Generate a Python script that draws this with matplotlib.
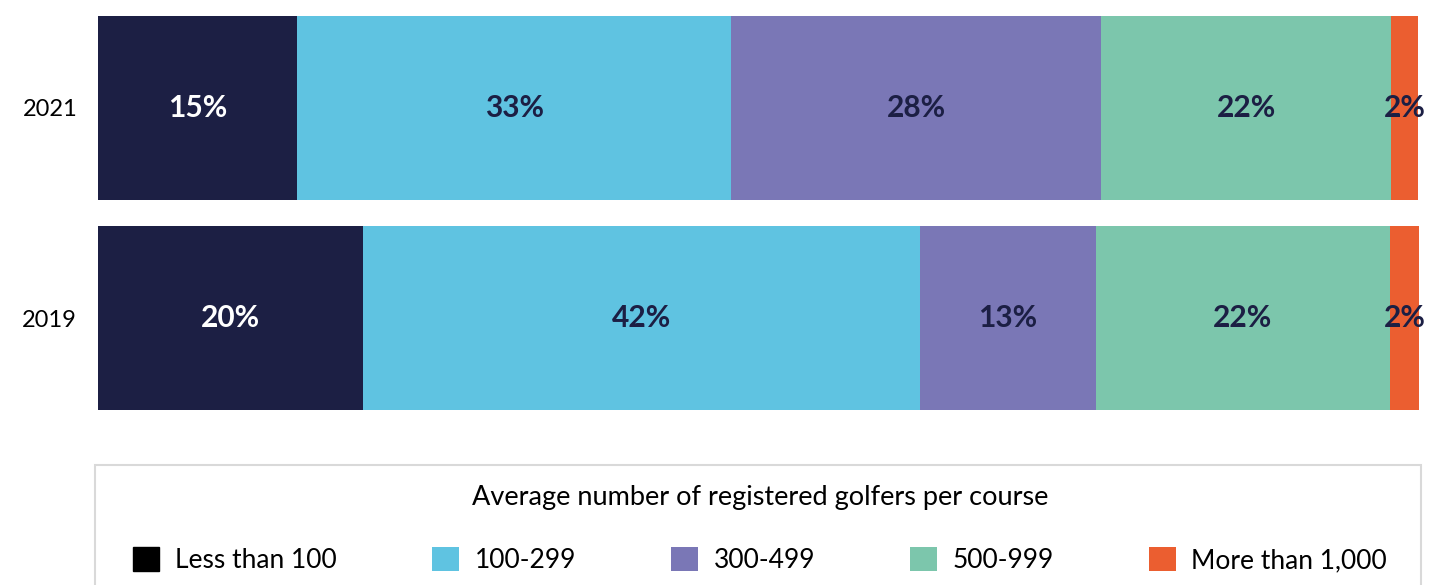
import matplotlib.pyplot as plt
import numpy as np

plt.rcParams['font.family'] = ['Lato', 'DejaVu Sans']

years = ['2019', '2021']
categories = ['Less than 100', '100-299', '300-499', '500-999', 'More than 1,000']
colors = ['#1c1f44', '#5fc3e1', '#7a77b6', '#7cc6ac', '#eb5e30']
label_colors = ['white', '#1c1f44', '#1c1f44', '#1c1f44', '#1c1f44']

# share of courses per band (bar widths)
shares_2019 = [20.1, 42.2, 13.3, 22.3, 2.2]
shares_2021 = [15.1, 32.9, 28.0, 22.0, 2.0]
# printed labels
labels_2019 = ['20%', '42%', '13%', '22%', '2%']
labels_2021 = ['15%', '33%', '28%', '22%', '2%']

shares = np.array([shares_2019, shares_2021])
labels = [labels_2019, labels_2021]

fig = plt.figure(figsize=(14.29, 5.85), dpi=100)
ax = fig.add_axes([98/1429, 1 - 410/585, (1419 - 98)/1429, 394/585])

y = np.arange(len(years))
bar_h = 0.876
left = np.zeros(len(years))
for i, cat in enumerate(categories):
    ax.barh(y, shares[:, i], left=left, height=bar_h, color=colors[i], label=cat)
    for j in range(len(years)):
        ax.text(left[j] + shares[j, i] / 2, y[j], labels[j][i], ha='center', va='center',
                fontsize=21.5, fontweight='bold', color=label_colors[i])
    left += shares[:, i]

ax.set_xlim(0, left.max())
ax.set_ylim(-bar_h / 2, 1 + bar_h / 2)
ax.set_yticks(y)
ax.set_yticklabels(years, fontsize=17)
ax.tick_params(axis='y', length=0, pad=15)
ax.set_xticks([])
for s in ax.spines.values():
    s.set_visible(False)

# legend frame, runs off the bottom of the image
frame = plt.Rectangle((95/1429, -0.1), (1421 - 95)/1429, 0.1 + 120/585,
                      transform=fig.transFigure, fill=False,
                      edgecolor='#d9d9d9', linewidth=1.5)
fig.patches.append(frame)

handles, hlabels = ax.get_legend_handles_labels()
handles[0] = plt.Rectangle((0, 0), 1, 1, color='black')
leg = fig.legend(handles, hlabels, loc='upper left', ncol=5, mode='expand',
                 bbox_to_anchor=(113/1429, 1 - 465/585, (1407 - 113)/1429, 0),
                 borderaxespad=0,
                 title='Average number of registered golfers per course',
                 title_fontsize=19.5, fontsize=19, frameon=False,
                 borderpad=0.75, labelspacing=1.42,
                 handlelength=1.0, handleheight=1.0, handletextpad=0.6,
                 columnspacing=3.5)

plt.savefig('out.png', dpi=100)
